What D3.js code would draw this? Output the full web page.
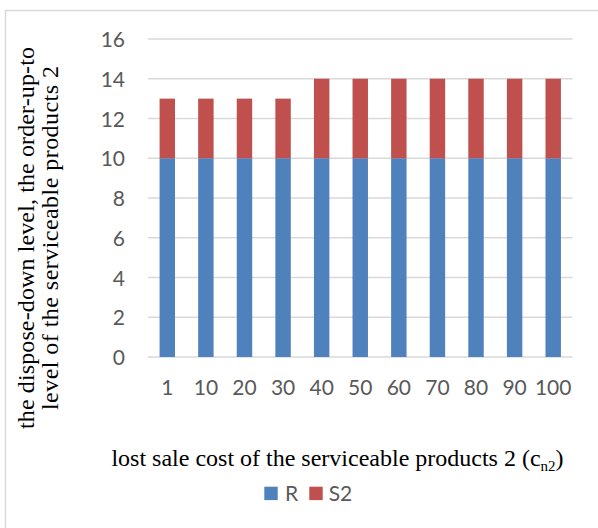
<!DOCTYPE html>
<html>
<head>
<meta charset="utf-8">
<script src="https://cdn.jsdelivr.net/npm/d3@7"></script>
<style>
  html, body { margin: 0; padding: 0; background: #fff; }
  svg { display: block; }
</style>
</head>
<body>
<svg id="chart" width="598" height="528"></svg>
<script>
// Lost sale cost values (x categories)
const categories = ["1", "10", "20", "30", "40", "50", "60", "70", "80", "90", "100"];
// Dispose-down level R
const seriesR = [10, 10, 10, 10, 10, 10, 10, 10, 10, 10, 10];
// Increment from R up to the order-up-to level S2
const seriesS2 = [3, 3, 3, 3, 4, 4, 4, 4, 4, 4, 4];
const yTicks = [0, 2, 4, 6, 8, 10, 12, 14, 16];

const seriesNames = ["R", "S2"];
const colors = { R: "#4F81BD", S2: "#C0504D" };

const svg = d3.select("#chart");
const W = 598, H = 528;

svg.append("rect").attr("width", W).attr("height", H).attr("fill", "#fff");

// outer chart frame
svg.append("rect")
  .attr("x", 5.5).attr("y", 10.5)
  .attr("width", 700).attr("height", 600)
  .attr("fill", "none").attr("stroke", "#D9D9D9").attr("stroke-width", 1.5);

const plot = { left: 148, right: 572.5, top: 39, bottom: 357 };

const x = d3.scaleBand()
  .domain(categories)
  .range([plot.left, plot.right])
  .paddingInner(0.6)
  .paddingOuter(0.3);

const y = d3.scaleLinear().domain([0, 16]).range([plot.bottom, plot.top]);

const tickFont = "Lato, 'Open Sans', sans-serif";
const tickColor = "#595959";
const tickSize = 21;

// gridlines
svg.append("g").selectAll("line")
  .data(yTicks)
  .join("line")
  .attr("x1", plot.left).attr("x2", plot.right)
  .attr("y1", d => y(d)).attr("y2", d => y(d))
  .attr("stroke", "#D9D9D9").attr("stroke-width", 1.5);

// stacked bars
const rows = categories.map((c, i) => ({ cat: c, R: seriesR[i], S2: seriesS2[i] }));
const stack = d3.stack().keys(seriesNames)(rows);

svg.append("g").selectAll("g")
  .data(stack)
  .join("g")
  .attr("fill", d => colors[d.key])
  .selectAll("rect")
  .data(d => d)
  .join("rect")
  .attr("x", d => x(d.data.cat))
  .attr("width", x.bandwidth())
  .attr("y", d => y(d[1]))
  .attr("height", d => y(d[0]) - y(d[1]));

// y axis tick labels
const yAxis = d3.axisLeft(y).tickValues(yTicks).tickSize(0).tickPadding(0);
const gy = svg.append("g").attr("transform", "translate(125,0)").call(yAxis);
gy.select(".domain").remove();
gy.selectAll("text")
  .attr("font-family", tickFont).attr("font-size", tickSize)
  .attr("fill", tickColor).attr("dy", "0.36em");

// x axis tick labels
const xAxis = d3.axisBottom(x).tickSize(0).tickPadding(0);
const gx = svg.append("g").attr("transform", `translate(0,${plot.bottom})`).call(xAxis);
gx.select(".domain").remove();
gx.selectAll("text")
  .attr("font-family", tickFont).attr("font-size", tickSize)
  .attr("fill", tickColor).attr("dy", null).attr("y", 38);

// axis titles
const serif = "'Liberation Serif', 'Times New Roman', serif";

const xt = svg.append("text")
  .attr("x", 337.5).attr("y", 466)
  .attr("text-anchor", "middle")
  .attr("font-family", serif).attr("font-size", 24).attr("fill", "#000");
xt.append("tspan").text("lost sale cost of the serviceable products 2 (c");
xt.append("tspan").attr("font-size", 15).attr("dy", 5).text("n2");
xt.append("tspan").attr("dy", -5).text(")");

const yt = svg.append("text")
  .attr("transform", "translate(0,238) rotate(-90)")
  .attr("text-anchor", "middle")
  .attr("font-family", serif).attr("font-size", 24).attr("fill", "#000");
yt.append("tspan").attr("x", 0).attr("y", 33.5)
  .attr("textLength", 382).attr("lengthAdjust", "spacing")
  .text("the dispose-down level, the order-up-to");
yt.append("tspan").attr("x", 0).attr("y", 58)
  .attr("textLength", 344).attr("lengthAdjust", "spacing")
  .text("level of the serviceable products 2");

// legend
const legend = [
  { name: "R", sx: 264.3, tx: 285 },
  { name: "S2", sx: 309.3, tx: 328.7 }
];
const lg = svg.append("g").selectAll("g").data(legend).join("g");
lg.append("rect")
  .attr("x", d => d.sx).attr("y", 486.7)
  .attr("width", 13.4).attr("height", 13.4)
  .attr("fill", d => colors[d.name]);
lg.append("text")
  .attr("x", d => d.tx).attr("y", 500.5)
  .attr("font-family", tickFont).attr("font-size", tickSize)
  .attr("fill", tickColor)
  .text(d => d.name);
</script>
</body>
</html>
